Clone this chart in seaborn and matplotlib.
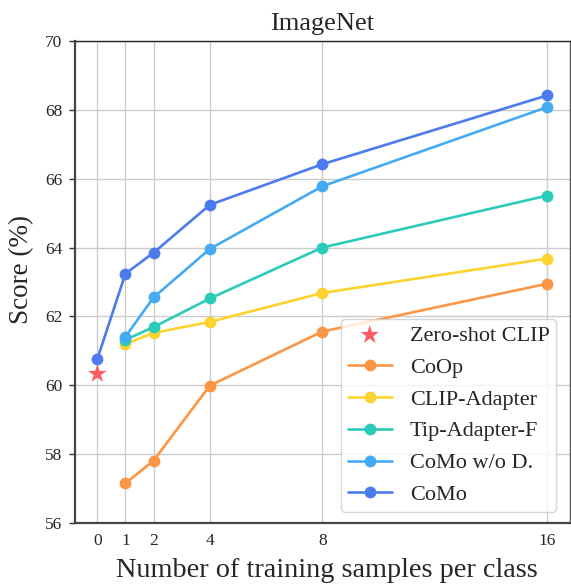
import matplotlib
matplotlib.use("Agg")
import matplotlib.pyplot as plt
import seaborn as sns
import pandas as pd

shots = [1, 2, 4, 8, 16]
zero_shot_x = [0]
zero_shot_clip = [60.33]
coop = [57.15, 57.81, 59.99, 61.56, 62.95]
clip_adapter = [61.20, 61.52, 61.84, 62.68, 63.68]
tip_adapter_f = [61.32, 61.69, 62.52, 64.00, 65.51]
como_wo_d = [61.41, 62.55, 63.96, 65.78, 68.08]
como_x = [0, 1, 2, 4, 8, 16]
como = [60.76, 63.24, 63.85, 65.24, 66.42, 68.42]

x_ticks = [0, 1, 2, 4, 8, 16]
y_ticks = [56, 58, 60, 62, 64, 66, 68, 70]

sns.set_style("whitegrid")
plt.rcParams["font.family"] = ["Liberation Serif", "DejaVu Serif"]

fig = plt.figure(figsize=(5.71, 5.85), dpi=100)
ax = fig.add_axes([0.131, 0.106, 0.867, 0.824])

sns.scatterplot(x=zero_shot_x, y=zero_shot_clip, marker="*", s=200, color="#fc5c65",
                edgecolor="none", label="Zero-shot CLIP", ax=ax, zorder=3)

series = [
    ("CoOp", shots, coop, "#fd9644"),
    ("CLIP-Adapter", shots, clip_adapter, "#fed330"),
    ("Tip-Adapter-F", shots, tip_adapter_f, "#2bcbba"),
    ("CoMo w/o D.", shots, como_wo_d, "#45aaf2"),
    ("CoMo", como_x, como, "#4b7bec"),
]
for name, xs, ys, col in series:
    df = pd.DataFrame({"x": xs, "y": ys})
    sns.lineplot(data=df, x="x", y="y", marker="o", markersize=8.5, markeredgewidth=0,
                 linewidth=1.9, color=col, label=name, ax=ax, zorder=3)

ax.set_xlim(-0.8, 16.8)
ax.set_ylim(56, 70)
ax.set_xticks(x_ticks)
ax.set_yticks(y_ticks)
ax.tick_params(axis="both", labelsize=12.5, width=1, color="#333333")
ax.tick_params(axis="y", left=True, length=4, pad=5)
ax.tick_params(axis="x", bottom=False, pad=4)
ax.grid(True, color="#cccccc", linewidth=1)

for side in ["left", "bottom"]:
    ax.spines[side].set_color("#444444")
    ax.spines[side].set_linewidth(1.6)
ax.spines["top"].set_color("#222222")
ax.spines["top"].set_linewidth(1.0)
ax.spines["right"].set_color("#555555")
ax.spines["right"].set_linewidth(1.0)

ax.set_title("ImageNet", fontsize=19, pad=8)
ax.set_xlabel("Number of training samples per class", fontsize=20.3)
ax.xaxis.set_label_coords(0.51, -0.073)
ax.set_ylabel("Score (%)", fontsize=19.5)
ax.yaxis.set_label_coords(-0.083, 0.525)

ax.legend(loc="lower right", fontsize=16, frameon=True, framealpha=0.8,
          edgecolor="#cccccc", handlelength=2.0, handletextpad=0.8,
          labelspacing=0.51, borderpad=0.3, bbox_to_anchor=(0.995, 0.0))

fig.savefig("out.png", dpi=100)
